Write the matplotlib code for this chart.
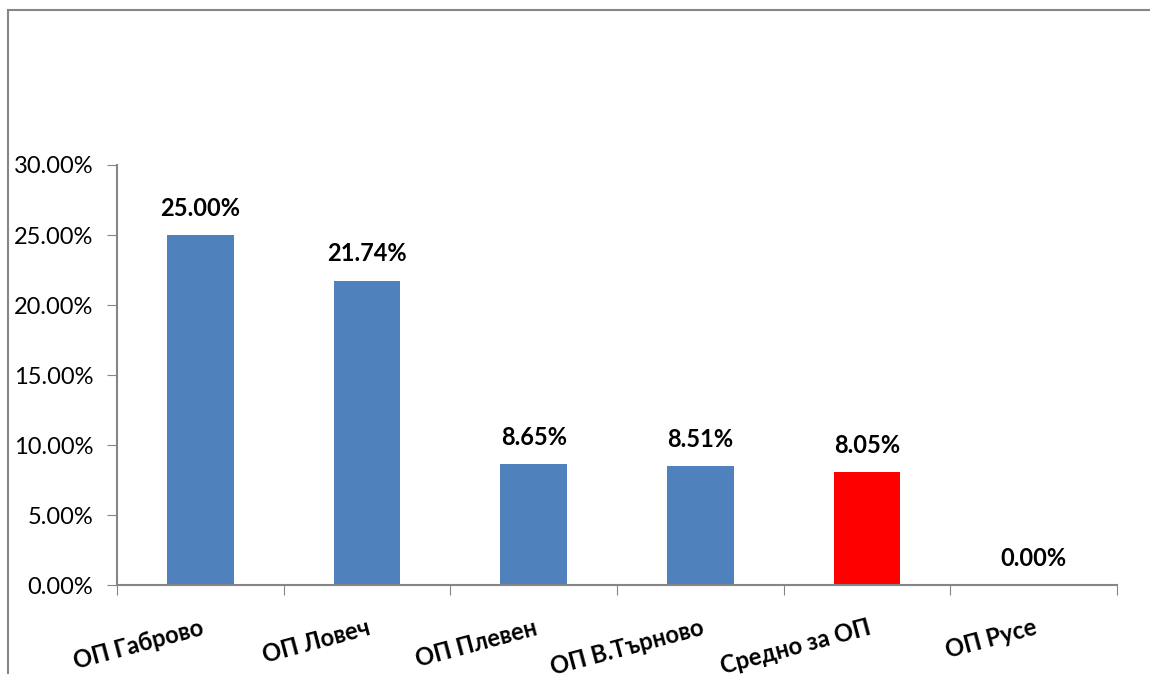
import matplotlib.pyplot as plt
from matplotlib.patches import Rectangle
from matplotlib.ticker import FuncFormatter, MultipleLocator

plt.rcParams['font.family'] = ['Lato', 'DejaVu Sans']

categories = ['ОП Габрово', 'ОП Ловеч', 'ОП Плевен', 'ОП В.Търново', 'Средно за ОП', 'ОП Русе']
values = [25.00, 21.74, 8.65, 8.51, 8.05, 0.00]
colors = ['#4F81BD', '#4F81BD', '#4F81BD', '#4F81BD', '#FF0000', '#4F81BD']

GRAY = '#868686'

fig = plt.figure(figsize=(11.5, 6.74), dpi=100)
ax = fig.add_axes([0.1017, 0.132, 0.8696, 0.6232])

x = range(len(categories))
ax.bar(x, values, width=0.4, color=colors, zorder=2)

for xi, v in zip(x, values):
    ax.annotate(f'{v:.2f}%', (xi, v), xytext=(0, 11), textcoords='offset points',
                ha='center', va='bottom', fontsize=17, fontweight='bold')

ax.set_xlim(-0.5, len(categories) - 0.5)
ax.set_ylim(0, 30)
ax.yaxis.set_major_locator(MultipleLocator(5))
ax.yaxis.set_major_formatter(FuncFormatter(lambda v, p: f'{v:.2f}%'))
ax.tick_params(axis='y', labelsize=17, direction='out', length=7, color=GRAY, pad=10)

# category labels centred on bars, tick marks on the category boundaries
ax.set_xticks([i - 0.5 for i in range(len(categories) + 1)])
ax.set_xticklabels([])
ax.tick_params(axis='x', direction='out', length=7, color=GRAY)
for xi, name in zip(x, categories):
    ax.text(xi, -2.2, name, rotation=15, rotation_mode='anchor', ha='right', va='top',
            fontsize=17, fontweight='bold', transform=ax.transData)

for side in ['top', 'right']:
    ax.spines[side].set_visible(False)
for side in ['left', 'bottom']:
    ax.spines[side].set_color(GRAY)
    ax.spines[side].set_linewidth(1.5)

# chart frame (only top and left edges fall inside the picture)
fig.patches.append(Rectangle((8 / 1150, -0.1), 1.2, 1 - 10 / 674 + 0.1,
                             transform=fig.transFigure, fill=False,
                             edgecolor=GRAY, linewidth=1.5))

fig.savefig('out.png', dpi=100)
